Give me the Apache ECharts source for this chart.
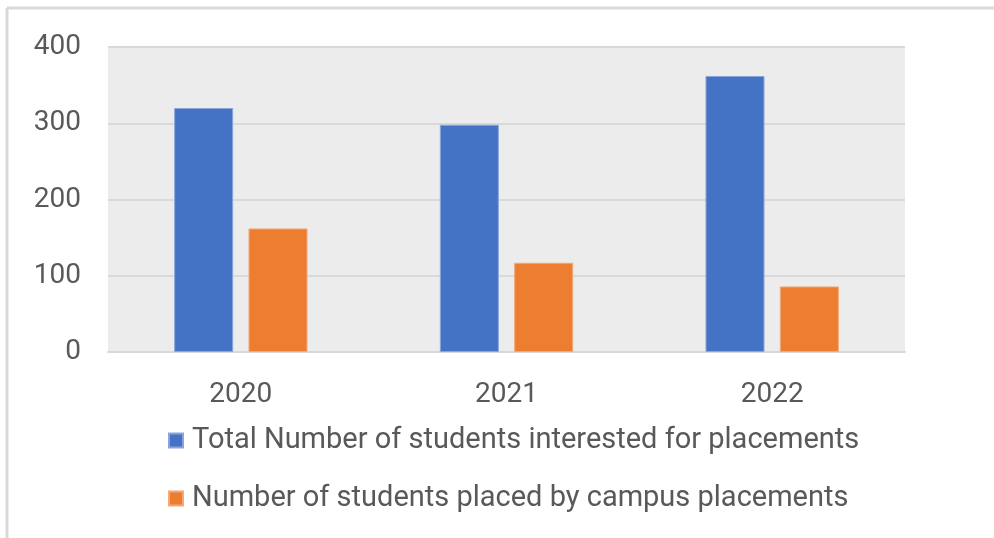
<!DOCTYPE html>
<html>
<head>
<meta charset="utf-8">
<script src="https://cdn.jsdelivr.net/npm/echarts@6/dist/echarts.min.js"></script>
<style>
html,body{margin:0;padding:0;background:#fff;}
#chart{width:994px;height:538px;}
</style>
</head>
<body>
<div id="chart"></div>
<script>
const categories = ['2020', '2021', '2022'];
const seriesNames = ['Total Number of students interested for placements', 'Number of students placed by campus placements'];
const interested = [320, 298, 362];
const placed = [162, 117, 86];
const yTicks = { min: 0, max: 400, interval: 100 };

const FONT = 'Roboto';
const chart = echarts.init(document.getElementById('chart'), null, { renderer: 'canvas' });
chart.setOption({
  animation: false,
  backgroundColor: '#ffffff',
  textStyle: { fontFamily: FONT },
  graphic: [
    { type: 'line', shape: { x1: 7, y1: 8, x2: 994, y2: 8 }, style: { stroke: '#d9d9d9', lineWidth: 3 } },
    { type: 'line', shape: { x1: 7, y1: 8, x2: 7, y2: 538 }, style: { stroke: '#d9d9d9', lineWidth: 3 } }
  ],
  grid: { left: 108, right: 89, top: 47, bottom: 186, show: true, backgroundColor: '#ececec', borderWidth: 0 },
  legend: {
    orient: 'vertical',
    left: 163,
    top: 421,
    itemWidth: 14,
    itemHeight: 14,
    itemGap: 29,
    icon: 'rect',
    textStyle: { fontFamily: FONT, fontSize: 29, color: '#595959', padding: [0, 0, 0, 4] },
    data: seriesNames
  },
  xAxis: {
    type: 'category',
    data: categories,
    axisLine: { lineStyle: { color: '#d9d9d9', width: 2 } },
    axisTick: { show: false },
    axisLabel: { fontFamily: FONT, fontSize: 28, color: '#595959', margin: 29 }
  },
  yAxis: {
    type: 'value',
    min: yTicks.min, max: yTicks.max, interval: yTicks.interval,
    axisLine: { show: false },
    axisTick: { show: false },
    splitLine: { lineStyle: { color: '#d9d9d9', width: 2 } },
    axisLabel: { fontFamily: FONT, fontSize: 28, color: '#595959', margin: 27 }
  },
  series: [
    { name: seriesNames[0], type: 'bar', data: interested, barWidth: 59, barGap: '26%',
      itemStyle: { color: '#4472c4', borderColor: '#8aa6d8', borderWidth: 1 } },
    { name: seriesNames[1], type: 'bar', data: placed, barWidth: 59, barGap: '26%',
      itemStyle: { color: '#ed7d31', borderColor: '#f3a878', borderWidth: 1 } }
  ]
});
</script>
</body>
</html>
